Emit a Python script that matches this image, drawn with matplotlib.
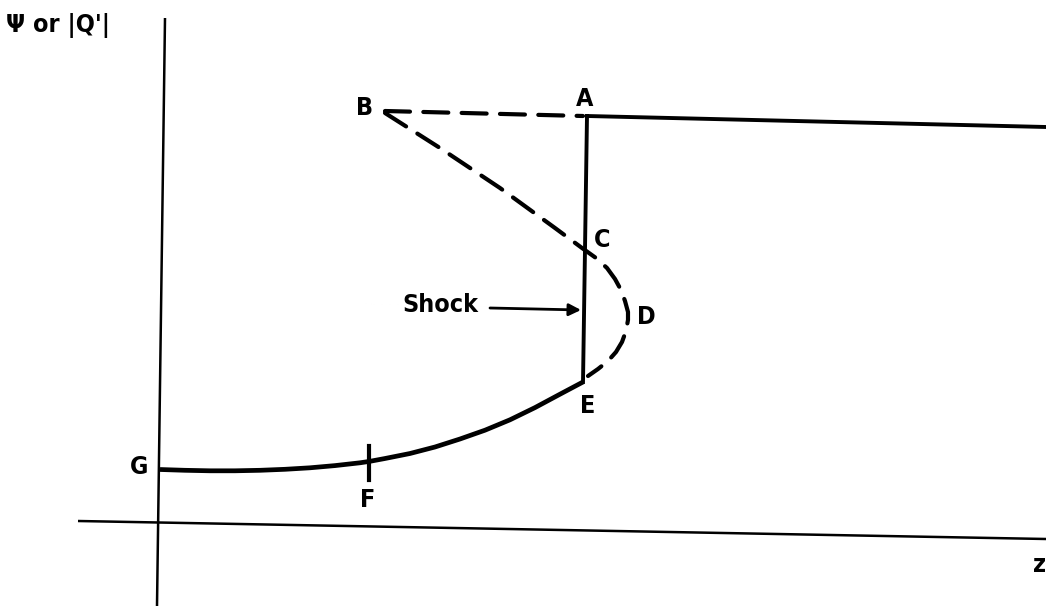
import matplotlib
matplotlib.use("Agg")
import matplotlib.pyplot as plt

# Schematic coordinates (pixel-like frame of the original figure, y downward)
axis_h_x = [78, 1046]
axis_h_y = [521, 539]
axis_v_x = [165, 157]
axis_v_y = [18, 606]

top_line_x = [587, 1046]
top_line_y = [116, 127]

ba_dash_x = [385, 583]
ba_dash_y = [111, 116]

bcde_dash_x = [385, 440, 500, 555, 582, 596, 607, 615, 621, 625, 628, 628, 626, 622, 616, 608, 598, 588]
bcde_dash_y = [113, 148, 188, 228, 248, 258, 268, 279, 290, 301, 312, 320, 331, 342, 352, 361, 369, 376]

shock_x = [587, 583]
shock_y = [116, 382]

eg_x = [583, 560, 535, 510, 485, 460, 435, 410, 385, 370, 360, 335, 310, 285, 260, 235, 210, 185, 160]
eg_y = [382.0, 394.2, 407.6, 419.8, 430.2, 439.0, 447.0, 453.5, 458.5, 461.3, 462.8, 465.6,
        467.8, 469.3, 470.3, 470.8, 470.8, 470.3, 469.5]

f_tick_x = [369, 369]
f_tick_y = [446, 480]

labels = ["B", "A", "C", "D", "E", "G", "F", "z"]
label_x = [365, 585, 602, 646, 588, 139, 368, 1040]
label_y = [108, 99, 240, 317, 406, 467, 500, 565]

fig = plt.figure(figsize=(10.46, 6.06), dpi=100)
ax = fig.add_axes([0, 0, 1, 1])
ax.set_xlim(0, 1046)
ax.set_ylim(606, 0)
ax.axis("off")

k = "black"
ax.plot(axis_h_x, axis_h_y, color=k, lw=1.8, solid_capstyle="butt")
ax.plot(axis_v_x, axis_v_y, color=k, lw=1.8, solid_capstyle="butt")
ax.plot(top_line_x, top_line_y, color=k, lw=2.8)
ax.plot(ba_dash_x, ba_dash_y, color=k, lw=3.0, dashes=(6, 3.2), dash_capstyle="round")
ax.plot(bcde_dash_x, bcde_dash_y, color=k, lw=3.0, dashes=(6, 3.2), dash_capstyle="round")
ax.plot(shock_x, shock_y, color=k, lw=2.8)
ax.plot(eg_x, eg_y, color=k, lw=3.4, solid_capstyle="butt", solid_joinstyle="round")
ax.plot(f_tick_x, f_tick_y, color=k, lw=3.0)

ax.annotate("", xy=(581, 310), xytext=(490, 308),
            arrowprops=dict(arrowstyle="-|>", color=k, lw=2.0,
                            mutation_scale=18, shrinkA=0, shrinkB=0))

fs = 18
font = dict(fontsize=fs, family="DejaVu Sans", fontstretch="condensed", fontweight="bold")
for t, x, y in zip(labels, label_x, label_y):
    ax.text(x, y, t, ha="center", va="center", **font)
ax.text(402, 305, "Shock", ha="left", va="center", **font)
ax.text(6, 25, "Ψ or |Q'|", ha="left", va="center", **font)

fig.savefig("out.png", dpi=100)
